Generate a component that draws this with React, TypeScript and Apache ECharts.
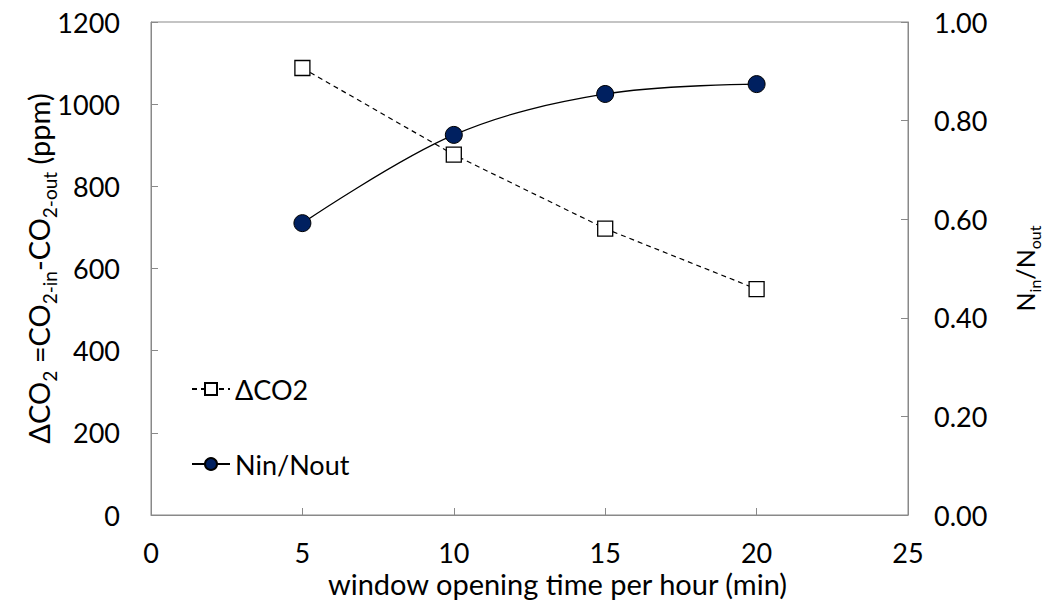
import React, { useEffect, useRef } from "react";
import * as echarts from "echarts";

const xValues = [5, 10, 15, 20];
const deltaCO2 = [1088, 877, 697, 550];
const ninNout = [0.592, 0.771, 0.854, 0.874];
const seriesNames = ["ΔCO2", "Nin/Nout"];

export default function App() {
  const ref = useRef<HTMLDivElement>(null);
  useEffect(() => {
    if (!ref.current) return;
    const chart = echarts.init(ref.current, null, { renderer: "svg" });
    const font = "Lato, 'Open Sans', 'DejaVu Sans', sans-serif";
    const axisGray = "#898989";
    const fs = 27;
    chart.setOption({
      animation: false,
      textStyle: { fontFamily: font },
      grid: {
        left: 151,
        right: 148,
        top: 22,
        bottom: 89,
        show: true,
        borderColor: axisGray,
        borderWidth: 1,
        containLabel: false,
        outerBoundsMode: "none",
      },
      legend: {
        orient: "vertical",
        left: 186,
        top: 369,
        itemGap: 45,
        itemWidth: 38,
        itemHeight: 15,
        textStyle: { fontSize: fs, color: "#000", fontFamily: font, lineHeight: 30 },
        data: seriesNames,
      },
      xAxis: {
        type: "value",
        min: 0,
        max: 25,
        interval: 5,
        splitLine: { show: false },
        axisLine: { lineStyle: { color: axisGray } },
        axisTick: { inside: true, length: 7, lineStyle: { color: axisGray } },
        axisLabel: { color: "#000", fontSize: fs, lineHeight: 27, margin: 24, fontFamily: font },
        name: "window opening time per hour (min)",
        nameLocation: "middle",
        nameMoveOverlap: false,
        nameGap: 53,
        nameTextStyle: {
          color: "#000",
          fontSize: 29,
          lineHeight: 30,
          fontFamily: font,
          padding: [0, 0, 0, 56],
        },
      },
      yAxis: [
        {
          type: "value",
          min: 0,
          max: 1200,
          interval: 200,
          position: "left",
          splitLine: { show: false },
          axisLine: { show: true, lineStyle: { color: axisGray } },
          axisTick: { show: true, inside: true, length: 7, lineStyle: { color: axisGray } },
          axisLabel: {
            color: "#000",
            fontSize: fs,
            margin: 31,
            fontFamily: font,
            formatter: (v: number) => String(v),
          },
          name: "{n|ΔCO}{s|2}{n| =CO}{s|2-in}{n|-CO}{s|2-out}{n| (ppm)}",
          nameLocation: "middle",
          nameMoveOverlap: false,
          nameRotate: 90,
          nameGap: 98,
          nameTextStyle: {
            color: "#000",
            fontFamily: font,
            rich: {
              n: { fontSize: 29, color: "#000", fontFamily: font, lineHeight: 34, verticalAlign: "bottom" },
              s: { fontSize: 19, color: "#000", fontFamily: font, lineHeight: 34, verticalAlign: "bottom", padding: [0, 0, -6, 0] },
            },
          },
        },
        {
          type: "value",
          min: 0,
          max: 1,
          interval: 0.2,
          position: "right",
          splitLine: { show: false },
          axisLine: { show: true, lineStyle: { color: axisGray } },
          axisTick: { show: true, inside: true, length: 7, lineStyle: { color: axisGray } },
          axisLabel: {
            color: "#000",
            fontSize: fs,
            margin: 26,
            fontFamily: font,
            formatter: (v: number) => v.toFixed(2),
          },
          name: "{n|N}{s|in}{n|/N}{s|out}",
          nameLocation: "middle",
          nameMoveOverlap: false,
          nameRotate: 90,
          nameGap: 99,
          nameTextStyle: {
            color: "#000",
            fontFamily: font,
            rich: {
              n: { fontSize: 25, color: "#000", fontFamily: font, lineHeight: 30, verticalAlign: "bottom" },
              s: { fontSize: 16, color: "#000", fontFamily: font, lineHeight: 30, verticalAlign: "bottom", padding: [0, 0, -5, 0] },
            },
          },
        },
      ],
      series: [
        {
          name: seriesNames[0],
          type: "line",
          yAxisIndex: 0,
          data: xValues.map((x, i) => [x, deltaCO2[i]]),
          symbol: "rect",
          symbolSize: 15,
          itemStyle: { color: "#fff", borderColor: "#000", borderWidth: 1.3 },
          lineStyle: { color: "#000", width: 1.2, type: [5, 4] },
          z: 2,
        },
        {
          name: seriesNames[1],
          type: "line",
          yAxisIndex: 1,
          data: xValues.map((x, i) => [x, ninNout[i]]),
          smooth: 0.35,
          symbol: "circle",
          symbolSize: 17,
          itemStyle: { color: "#002060", borderColor: "#000", borderWidth: 1 },
          lineStyle: { color: "#000", width: 1.3 },
          z: 3,
        },
      ],
    });
    return () => chart.dispose();
  }, []);
  return (
    <div
      ref={ref}
      style={{ position: "fixed", left: 0, top: 0, width: 1056, height: 604, background: "#fff" }}
    />
  );
}
